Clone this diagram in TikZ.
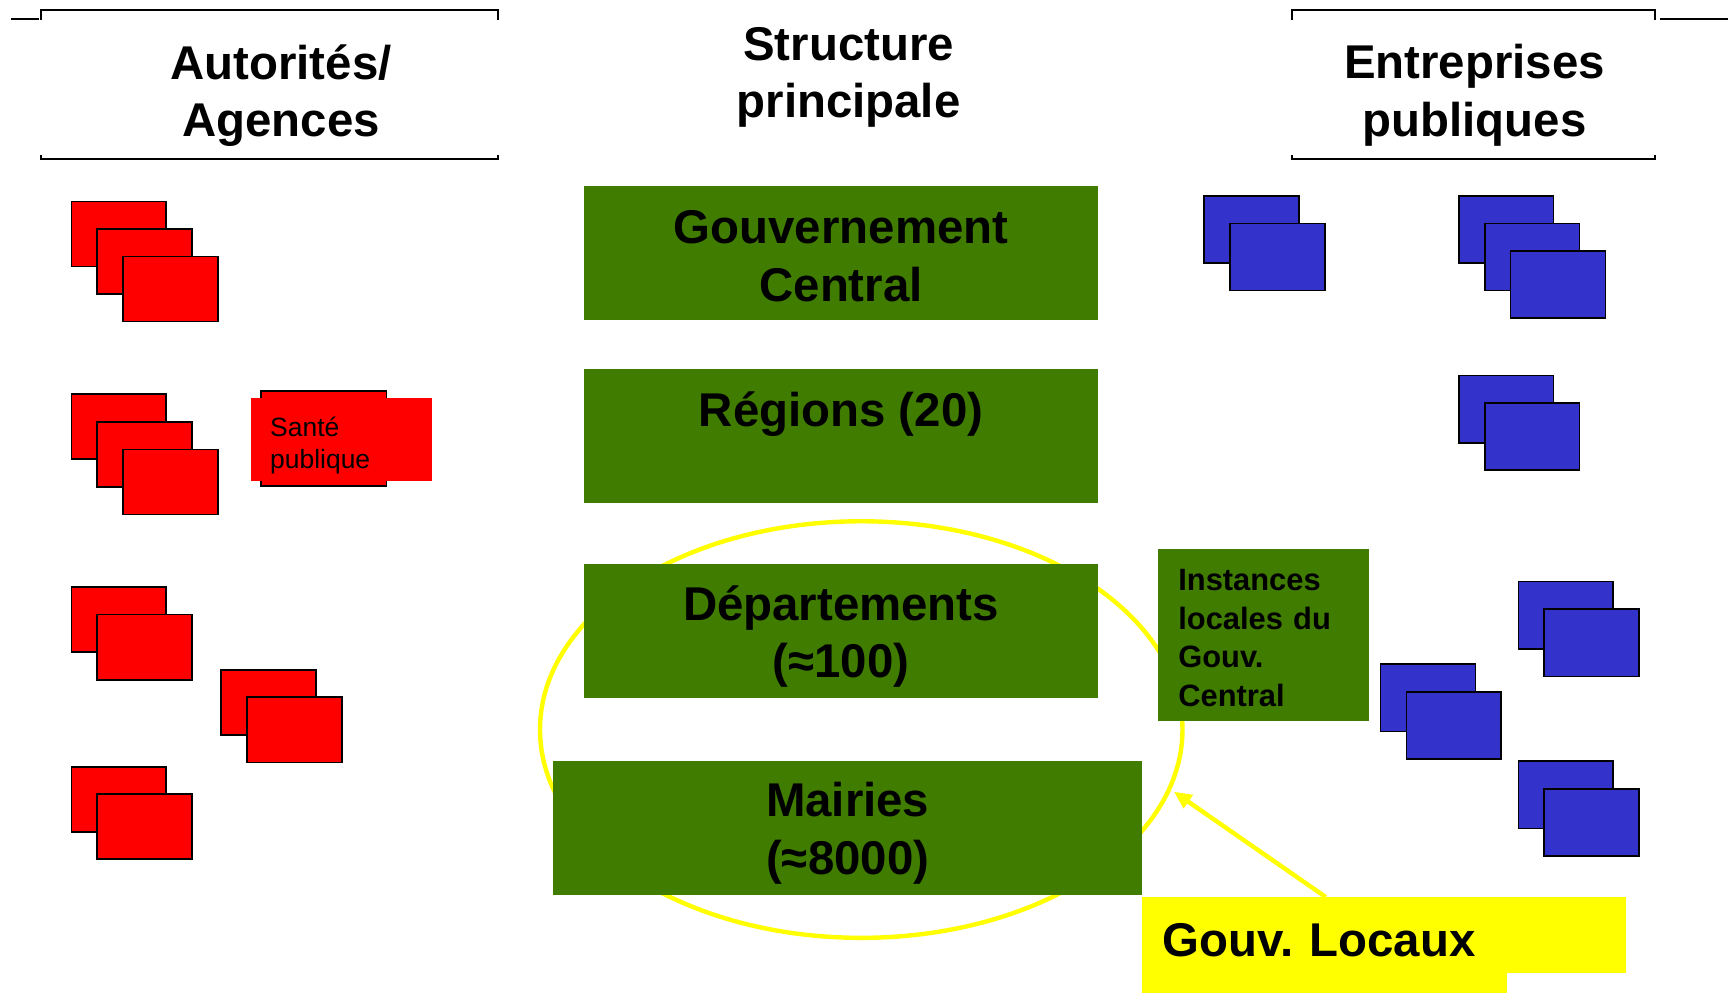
\documentclass[tikz,border=0pt]{standalone}
\usepackage{fontspec}
\setmainfont{Liberation Sans}
\usepackage{xcolor}
\usetikzlibrary{shapes.geometric,arrows.meta}
\definecolor{vert}{RGB}{64,124,0}
\definecolor{bleu}{RGB}{51,51,204}
\definecolor{jaune}{RGB}{255,255,0}
\frenchspacing
\begin{document}
\begin{tikzpicture}[x=1pt,y=-1pt,
  big/.style={font=\bfseries\fontsize{43}{52}\selectfont},
  gov/.style={big, fill=vert, align=center, inner sep=0, anchor=north west, minimum width=466pt, minimum height=121pt}]
\tikzstyle{redbox}=[draw=black, line width=1.5pt, fill=red, inner sep=0, anchor=north west, minimum width=86pt, minimum height=59pt]
\tikzstyle{bluebox}=[redbox, fill=bleu, minimum height=61pt]
\fill[white] (0,0) rectangle (1568,901);
\useasboundingbox (0,0) rectangle (1568,901);
% headers
\node[big, align=center] (aut) at (255,86.5) {Autorités/\\Agences};
\node[big, align=center] (struct) at (770,70) {Structure\\principale};
\node[big, align=center] (entr) at (1338,86.5) {Entreprises\\publiques};
\draw[line width=2pt] (10,17) -- (35,17) (37,18) -- (37,9) -- (452,9) -- (452,18);
\draw[line width=2pt] (37,141) -- (37,144) -- (452,144) -- (452,141);
\draw[line width=2pt] (1172,18) -- (1172,9) -- (1502,9) -- (1502,18) (1506,17) -- (1568,17);
\draw[line width=2pt] (1172,141) -- (1172,144) -- (1502,144) -- (1502,141);
% stacks of boxes
\foreach \nom/\x/\y/\k in {r1/64/182/3,r2/64/357/3,r3/64/532/2,r4/200/607/2,r5/64/695/2}{
  \foreach \i in {1,...,\k}{\node[redbox] (\nom-\i) at ({\x+23.5*(\i-1)},{\y+25*(\i-1)}){};}}
\foreach \nom/\x/\y/\k in {b1/1092/177/2,b2/1323/177/3,b3/1323/340/2,b4/1377/527/2,b5/1252/602/2,b6/1377/690/2}{
  \foreach \i in {1,...,\k}{\node[bluebox] (\nom-\i) at ({\x+23.5*(\i-1)},{\y+25*(\i-1)}){};}}
\node[redbox, minimum width=114pt, minimum height=86pt] (sante-bg) at (236,354){};
\node[fill=red, anchor=north west, minimum height=75pt, text width=130pt, inner xsep=17pt, inner ysep=0, align=left, font=\fontsize{24}{29}\selectfont] (sante) at (228,361) {\rule{0pt}{28pt}Santé\\publique};
% local level
\node[draw=jaune, line width=4pt, ellipse, inner sep=0, minimum width=583pt, minimum height=378pt] (ell) at (781.5,662){};
\node[gov] (central) at (530,169) {\rule{0pt}{41pt}Gouvernement\\Central\rule[-6pt]{0pt}{6pt}};
\node[gov] (regions) at (530,335) {\rule{0pt}{41pt}Régions (20)\\~\rule[-6pt]{0pt}{6pt}};
\node[gov] (depts) at (530,512) {\rule{0pt}{41pt}Départements\\(≈100)\rule[-6pt]{0pt}{6pt}};
\node[gov, minimum width=534pt, minimum height=122pt] (mairies) at (502,690) {\rule{0pt}{41pt}Mairies\\(≈8000)\rule[-6pt]{0pt}{6pt}};
\node[fill=vert, anchor=north west, align=left, minimum width=191pt, minimum height=156pt, text width=155pt, inner xsep=18pt, inner ysep=0, font=\bfseries\fontsize{28}{35}\selectfont] (instances) at (1051,498) {\rule{0pt}{25pt}Instances\\locales du\\Gouv.\\Central};
\node[fill=jaune, anchor=north west, minimum width=331pt, minimum height=87pt] (locaux-bg) at (1036,814){};
\node[big, fill=jaune, anchor=north west, align=left, minimum width=439pt, minimum height=69pt, text width=401pt, inner xsep=19pt, inner ysep=0] (locaux) at (1036,814) {\rule{0pt}{38pt}Gouv. Locaux};
\draw[jaune, line width=4pt, -{Triangle[length=16pt,width=14pt]}, shorten >=3pt] ([xshift=167pt]locaux.north west) -- (ell.-11);
\end{tikzpicture}
\end{document}
